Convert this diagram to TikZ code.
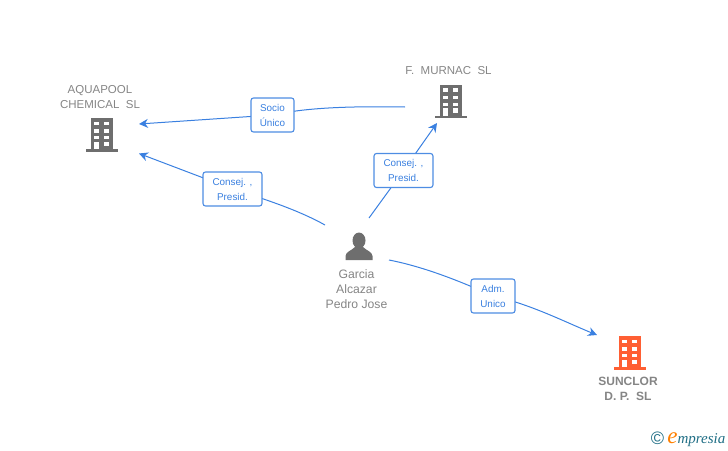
\documentclass[tikz,border=0pt]{standalone}
\usepackage{fontspec}
\setmainfont{Liberation Sans}
\newfontfamily\logofont{Liberation Serif}
\usetikzlibrary{arrows.meta,backgrounds}
\definecolor{linkblue}{HTML}{3A80E0}
\definecolor{iconcolor}{HTML}{6E6E6E}
\definecolor{namegray}{HTML}{858585}
\definecolor{hotorange}{HTML}{FF5F33}
\definecolor{logoteal}{HTML}{1F6E85}
\tikzset{
  linkline/.style={draw=linkblue, line width=1pt},
  linkbox/.style={draw=linkblue!90!white, line width=1.1pt, rounded corners=2.5pt, fill=white, text=linkblue, font=\fontsize{9.9}{15}\selectfont, align=center, minimum height=34pt, inner sep=0pt},
  firmname/.style={text=namegray, font=\fontsize{11.5}{15}\selectfont, align=center, inner sep=0pt},
  pics/building/.style={code={
    \fill[#1] (-11,0) rectangle (11,31);
    \fill[#1] (-16,31) rectangle (16,33.5);
    \foreach \yy in {3.7,11.3,18} {
      \fill[white] (-7.7,\yy) rectangle (-2.7,\yy+3.4);
      \fill[white] (2.3,\yy) rectangle (7.3,\yy+3.4);
    }
    \fill[white] (-7.7,23.7) rectangle (-2.7,31);
    \fill[white] (2.3,23.7) rectangle (7.3,28);
  }}
}
\begin{document}
\begin{tikzpicture}[x=1pt, y=-1pt, >={Stealth[length=9pt,width=9pt]}]
\useasboundingbox (0,0) rectangle (728,450);

% the firms
\pic at (102,118) {building=iconcolor};
\pic at (450.5,84.5) {building=iconcolor};
\pic at (629.5,336) {building=hotorange};
\node[firmname] (aquapool) at (100,97) {AQUAPOOL\\CHEMICAL\ \ SL};
\node[firmname] (murnac) at (448.5,70.5) {F.\ \ MURNAC\ \ SL};
\node[firmname, font=\fontsize{12}{15}\selectfont\bfseries] (sunclor) at (628,388.5) {SUNCLOR\\D. P.\ \ SL};

% the person
\fill[iconcolor] (359,240.5) ellipse (6.5 and 8);
\fill[iconcolor] (345.5,260) -- (345.5,256) .. controls (346,251.5) and (351,251) .. (355,247) -- (363,247) .. controls (367,251) and (372,251.5) .. (372.5,256) -- (372.5,260) -- cycle;
\node[firmname, font=\fontsize{12.2}{15}\selectfont] (garcia) at (356.5,289) {Garcia\\Alcazar\\Pedro Jose};

% the boxes on the links
\node[linkbox, minimum width=43pt] (socio) at (272.5,115) {Socio\\Único};
\node[linkbox, minimum width=59pt] (consejA) at (232.5,189) {Consej. ,\\Presid.};
\node[linkbox, minimum width=59pt] (consejB) at (403.5,170.5) {Consej. ,\\Presid.};
\node[linkbox, minimum width=44pt] (adm) at (493,296) {Adm.\\Unico};

% free ends of the links
\coordinate (murnacout) at (405,107);
\coordinate (aquain) at (139,124);
\coordinate (garciaA) at (325,225);
\coordinate (aquainB) at (139,153.5);
\coordinate (garciaB) at (369,218);
\coordinate (murnacin) at (437,123);
\coordinate (garciaC) at (389,260);
\coordinate (sunclorin) at (597,335);

% draw the links under the boxes
\begin{pgfonlayer}{background}
\draw[->, linkline] (murnacout) .. controls (345,106) and (305,108) .. (socio.center) -- (aquain);
\draw[->, linkline] (garciaA) .. controls (300,211) and (268,200) .. (consejA.center) -- (aquainB);
\draw[->, linkline] (garciaB) -- (consejB.center) -- (murnacin);
\draw[->, linkline] (garciaC) .. controls (425,267) and (462,282) .. (adm.center) .. controls (530,304) and (565,322) .. (sunclorin);
\end{pgfonlayer}

% the mark in the corner
\node[inner sep=0pt, text=logoteal, font=\fontsize{18}{18}\selectfont] (copymark) at (657.5,438.5) {©};
\node[inner sep=0pt, anchor=base east, text=logoteal, font=\logofont\itshape\fontsize{15}{15}\selectfont] (logo) at (725.5,443) {\textcolor{orange}{\fontsize{23}{23}\selectfont e}mpresia};
\end{tikzpicture}
\end{document}
